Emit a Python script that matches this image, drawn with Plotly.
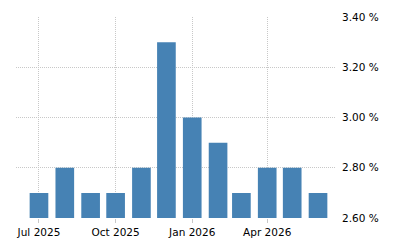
import plotly.graph_objects as go

months = ["2025-07-01", "2025-08-01", "2025-09-01", "2025-10-01", "2025-11-01", "2025-12-01",
          "2026-01-01", "2026-02-01", "2026-03-01", "2026-04-01", "2026-05-01", "2026-06-01"]
values = [2.7, 2.8, 2.7, 2.7, 2.8, 3.3, 3.0, 2.9, 2.7, 2.8, 2.8, 2.7]

font = dict(family="DejaVu Sans", size=10.5, color="#000000")

fig = go.Figure(go.Bar(x=months, y=values, marker=dict(color="#4682B4", line=dict(width=0)),
                       hoverinfo="skip"))

fig.update_layout(
    width=400, height=250,
    margin=dict(l=16, r=64, t=17, b=32),
    paper_bgcolor="white", plot_bgcolor="white",
    bargap=0.2, showlegend=False, font=font,
    xaxis=dict(type="date", range=["2025-06-03 10:00", "2026-06-22 14:00"],
               tickformat="%b %Y", dtick="M3", tick0="2025-07-01",
               showgrid=True, gridcolor="#c8c8c8", griddash="1px,1px", gridwidth=1,
               ticks="outside", ticklen=4, tickcolor="#c8c8c8",
               showline=False, zeroline=False, tickfont=font),
    yaxis=dict(side="right", range=[2.6, 3.4], dtick=0.2, tick0=2.6,
               tickformat=".2f", ticksuffix=" %",
               showgrid=True, gridcolor="#c8c8c8", griddash="1px,1px", gridwidth=1,
               ticks="", showline=False, zeroline=False, tickfont=font,
               ticklabelstandoff=5),
)

fig.write_html("out.html")
